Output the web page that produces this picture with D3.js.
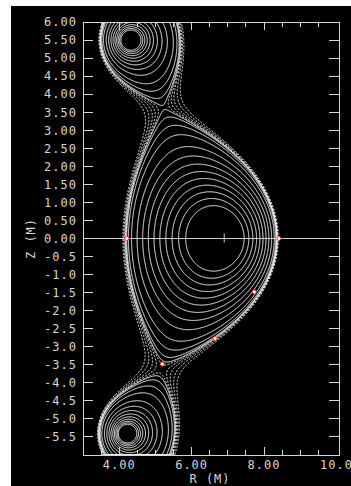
<!DOCTYPE html>
<html>
<head>
<meta charset="utf-8">
<script src="https://cdn.jsdelivr.net/npm/d3@7"></script>
<style>
  body { margin: 0; background: #fff; }
  svg { display: block; }
  text { font-family: "DejaVu Sans Mono", monospace; font-size: 12px; fill: #d6d6d6; letter-spacing: 1px; }
</style>
</head>
<body>
<div id="chart"></div>
<script>
const width = 351, height = 486;
const frameL = 83, frameR = 339, frameT = 22, frameB = 455;

// axis ticks
const yTickValues = [6, 5.5, 5, 4.5, 4, 3.5, 3, 2.5, 2, 1.5, 1, 0.5, 0, -0.5, -1, -1.5, -2, -2.5, -3, -3.5, -4, -4.5, -5, -5.5];
const yTickLabels = ["6.00", "5.50", "5.00", "4.50", "4.00", "3.50", "3.00", "2.50", "2.00", "1.50", "1.00", "0.50", "0.00",
  "-0.5", "-1.0", "-1.5", "-2.0", "-2.5", "-3.0", "-3.5", "-4.0", "-4.5", "-5.0", "-5.5"];
const xTickValues = [4, 6, 8, 10];
const xTickLabels = ["4.00", "6.00", "8.00", "10.0"];

// equilibrium (metres)
const axisR = 6.9, axisZ = 0.0;
const coilR = [4.30, 4.21];
const coilZ = [5.50, -5.41];
const xPointR = [5.22, 5.20];
const xPointZ = [3.70, -3.52];
const boundaryR = [4.21, 8.41, 7.73, 6.65, 7.78, 6.68, 4.41, 4.60, 4.25, 4.30];
const boundaryZ = [0.00, 0.00, -1.48, -2.77, 1.48, 2.77, 2.00, -2.00, 1.00, -1.00];
const lobeR = [3.50, 5.38, 3.49, 5.40];
const lobeZ = [5.22, 5.00, -5.29, -5.00];
const innerR = [5.91, 7.46, 6.38, 6.38];
const innerZ = [0.00, 0.00, 1.14, -1.13];
const markerR = [4.21, 8.41, 7.73, 6.65, 5.19];
const markerZ = [0.00, 0.00, -1.48, -2.77, -3.48];

// contour levels, normalised flux (0 = axis, 1 = separatrix)
const solidLevels = [0.2, 0.28, 0.36, 0.44, 0.52, 0.6, 0.68, 0.76, 0.84, 0.92, 0.965, 0.99, 1.0];
const dashedLevels = [1.004, 1.01, 1.018, 1.03, 1.045];

const x = d3.scaleLinear().domain([3, 10.07]).range([frameL, frameR]);
const y = d3.scaleLinear().domain([-6, 6]).range([frameB, frameT]);

// flux model: softened plasma source + two coils + low-order external field,
// coefficients fitted by least squares to the points above
const R0 = 6.5;
const logSrc = (r0, z0, s2) => (R, Z) => {
  const dr = R - r0, dz = Z - z0, d2 = dr * dr + dz * dz + s2;
  return [0.5 * Math.log(d2), dr / d2, dz / d2];
};
const basis = [
  logSrc(coilR[0], coilZ[0], 1e-6),
  logSrc(coilR[1], coilZ[1], 1e-6),
  (R, Z) => [R - R0, 1, 0],
  (R, Z) => { const u = R - R0; return [u * u - Z * Z, 2 * u, -2 * Z]; },
  (R, Z) => { const u = R - R0; return [u * u * u - 3 * u * Z * Z, 3 * u * u - 3 * Z * Z, -6 * u * Z]; }
];
const nb = basis.length;
const evalAll = (R, Z) => basis.map(f => f(R, Z));

function solve(A, b) {
  const n = b.length;
  const M = A.map((row, i) => [...row, b[i]]);
  for (let c = 0; c < n; c++) {
    let p = c;
    for (let r = c + 1; r < n; r++) if (Math.abs(M[r][c]) > Math.abs(M[p][c])) p = r;
    [M[c], M[p]] = [M[p], M[c]];
    for (let r = c + 1; r < n; r++) {
      const f = M[r][c] / M[c][c];
      for (let k = c; k <= n; k++) M[r][k] -= f * M[c][k];
    }
  }
  const out = new Array(n).fill(0);
  for (let r = n - 1; r >= 0; r--) {
    let s = M[r][n];
    for (let k = r + 1; k < n; k++) s -= M[r][k] * out[k];
    out[r] = s / M[r][r];
  }
  return out;
}

function fitModel(pR, s) {
  const plasma = logSrc(pR, 0, s * s);
  const rows = [], rhs = [], wts = [];
  const addGrad = (r, z, w) => {
    const fb = evalAll(r, z), fp = plasma(r, z);
    rows.push(fb.map(v => v[1])); rhs.push(-fp[1]); wts.push(w);
    rows.push(fb.map(v => v[2])); rhs.push(-fp[2]); wts.push(w);
  };
  const addLevel = (r, z, r1, z1, w) => {
    const fa = evalAll(r, z), fb = evalAll(r1, z1);
    rows.push(fa.map((v, k) => v[0] - fb[k][0]));
    rhs.push(-(plasma(r, z)[0] - plasma(r1, z1)[0]));
    wts.push(w);
  };
  xPointR.forEach((r, i) => addGrad(r, xPointZ[i], 3));
  addGrad(axisR, axisZ, 1);
  addLevel(xPointR[1], xPointZ[1], xPointR[0], xPointZ[0], 5);
  boundaryR.forEach((r, i) => addLevel(r, boundaryZ[i], xPointR[0], xPointZ[0], 1));
  lobeR.forEach((r, i) => addLevel(r, lobeZ[i], xPointR[0], xPointZ[0], 1));
  innerR.slice(1).forEach((r, i) => addLevel(r, innerZ[i + 1], innerR[0], innerZ[0], 1));

  const N = d3.range(nb).map(() => new Array(nb).fill(0));
  const V = new Array(nb).fill(0);
  rows.forEach((row, i) => {
    const w2 = wts[i] * wts[i];
    for (let a = 0; a < nb; a++) {
      V[a] += w2 * row[a] * rhs[i];
      for (let b = 0; b < nb; b++) N[a][b] += w2 * row[a] * row[b];
    }
  });
  for (let a = 0; a < nb; a++) N[a][a] += 1e-4;
  const coef = solve(N, V);
  let err = 0;
  rows.forEach((row, i) => {
    const r = d3.sum(row, (v, k) => v * coef[k]) - rhs[i];
    err += wts[i] * wts[i] * r * r;
  });
  if (coef[0] < 0.2 || coef[1] < 0.2) err += 10;
  return { pR, s, plasma, coef, err };
}

let best = null;
for (let pR = 6.3; pR <= 8.2; pR += 0.05) {
  for (let s = 0.2; s <= 2.0; s += 0.05) {
    const m = fitModel(pR, s);
    if (!best || m.err < best.err) best = m;
  }
}
const coef = best.coef;
const psi = (R, Z) => {
  let v = best.plasma(R, Z)[0];
  for (let k = 0; k < nb; k++) v += coef[k] * basis[k](R, Z)[0];
  return v;
};

// grid over the frame, one sample per pixel
const nx = frameR - frameL, ny = frameB - frameT;
const values = new Float64Array(nx * ny);
let psiMin = Infinity;
for (let j = 0; j < ny; j++) {
  const Z = y.invert(frameT + j + 0.5);
  for (let i = 0; i < nx; i++) {
    const R = x.invert(frameL + i + 0.5);
    const v = psi(R, Z);
    values[i + j * nx] = -v;
    if (R > 5.5 && R < 8.2 && Math.abs(Z) < 1.5 && v < psiMin) psiMin = v;
  }
}
const psiSep = Math.min(psi(xPointR[0], xPointZ[0]), psi(xPointR[1], xPointZ[1]));
const toPsi = n => psiMin + n * (psiSep - psiMin);

const svg = d3.select("#chart").append("svg").attr("width", width).attr("height", height);
svg.append("rect").attr("x", 11).attr("y", 6).attr("width", width - 11).attr("height", height - 6).attr("fill", "#000");

svg.append("clipPath").attr("id", "frame").append("rect")
  .attr("x", frameL).attr("y", frameT).attr("width", nx).attr("height", ny);

const path = d3.geoPath(d3.geoIdentity().translate([frameL, frameT]));
const gen = d3.contours().size([nx, ny]);
const plot = svg.append("g").attr("clip-path", "url(#frame)");

[{ levels: solidLevels, dash: null }, { levels: dashedLevels, dash: "2,1.5" }].forEach(g => {
  plot.append("g").selectAll("path")
    .data(g.levels.map(n => gen.contour(values, -toPsi(n))))
    .join("path")
    .attr("d", path)
    .attr("fill", "none")
    .attr("stroke", "#f2f2f2")
    .attr("stroke-width", 1)
    .attr("stroke-dasharray", g.dash);
});

// midplane line and axis mark
svg.append("line").attr("x1", frameL).attr("x2", frameR).attr("y1", y(0)).attr("y2", y(0))
  .attr("stroke", "#cfcfcf").attr("stroke-width", 1);
svg.append("line").attr("x1", x(axisR)).attr("x2", x(axisR)).attr("y1", y(axisZ) - 5).attr("y2", y(axisZ) + 4)
  .attr("stroke", "#cfcfcf").attr("stroke-width", 1);

// boundary markers
svg.append("g").selectAll("circle").data(markerR).join("circle")
  .attr("cx", d => x(d)).attr("cy", (d, i) => y(markerZ[i])).attr("r", 2)
  .attr("fill", "#fff").attr("stroke", "#ff3030").attr("stroke-width", 1);

// frame and ticks
const axes = svg.append("g").attr("stroke", "#d6d6d6").attr("stroke-width", 1).attr("shape-rendering", "crispEdges");
axes.append("rect").attr("x", frameL).attr("y", frameT).attr("width", nx).attr("height", ny).attr("fill", "none");
axes.selectAll(".ty").data(yTickValues.slice(1)).join("path")
  .attr("d", d => `M${frameL},${y(d)}h10M${frameR},${y(d)}h-10`);
const xMinor = d3.range(3.5, 10, 0.5);
axes.selectAll(".tx").data(xMinor).join("path")
  .attr("d", d => {
    const len = d % 2 === 0 ? 8 : 5;
    return `M${x(d)},${frameB}v${-len}M${x(d)},${frameT}v${len}`;
  });

svg.append("g").selectAll("text").data(yTickLabels).join("text")
  .attr("x", 77).attr("y", (d, i) => y(yTickValues[i]))
  .attr("dy", "0.36em").attr("text-anchor", "end").text(d => d);
svg.append("g").selectAll("text").data(xTickLabels).join("text")
  .attr("x", (d, i) => x(xTickValues[i])).attr("y", 469)
  .attr("text-anchor", "middle").text(d => d);
svg.append("text").attr("x", 210).attr("y", 483).attr("text-anchor", "middle").text("R (M)");
svg.append("text").attr("transform", `translate(35,${y(0)}) rotate(-90)`)
  .attr("text-anchor", "middle").text("Z (M)");
</script>
</body>
</html>
